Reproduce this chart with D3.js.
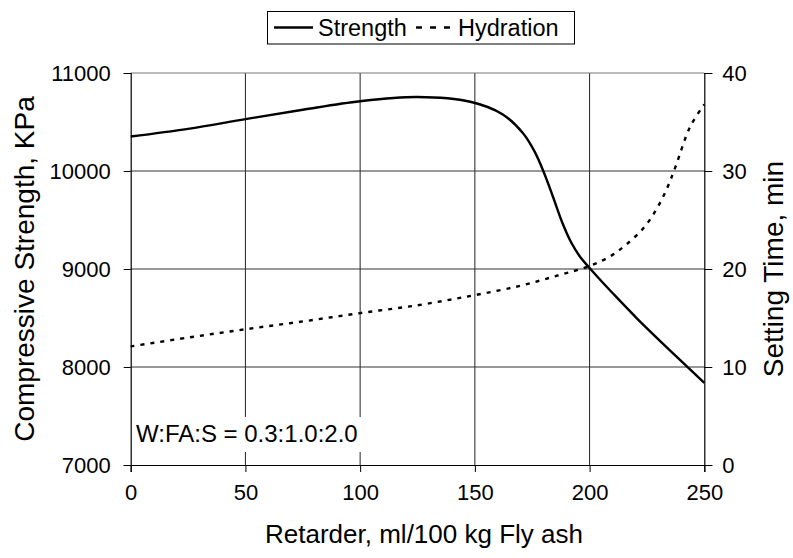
<!DOCTYPE html>
<html>
<head>
<meta charset="utf-8">
<script src="https://cdn.jsdelivr.net/npm/d3@7"></script>
<style>
  body { margin: 0; background: #fff; }
  text { font-family: "Liberation Sans", Arial, sans-serif; fill: #000; }
</style>
</head>
<body>
<div id="chart-area"></div>
<script>
// values
var strengthX = [0, 25, 50, 75, 100, 125, 148, 162, 171, 176, 180, 184, 188, 192, 196, 200, 205, 210, 220.6, 235, 250];
var strengthY = [10352, 10430, 10529, 10625, 10712, 10755, 10707, 10580, 10385, 10200, 9990, 9740, 9480, 9270, 9120, 9010, 8880, 8755, 8497, 8170, 7837];
var hydrationX = [0, 25, 50, 75, 100, 125, 148, 170, 187, 200, 209, 216, 223.6, 229.4, 233.7, 237.4, 243.8, 250];
var hydrationY = [12.1, 13.0, 13.85, 14.65, 15.5, 16.3, 17.25, 18.3, 19.4, 20.3, 21.3, 22.5, 24.2, 26.2, 28.2, 30.4, 34.5, 36.8];
var xTicks = [0, 50, 100, 150, 200, 250];
var leftTicks = [7000, 8000, 9000, 10000, 11000];
var rightTicks = [0, 10, 20, 30, 40];

var width = 793, height = 558;
var pLeft = 130.7, pRight = 704.3, pTop = 73, pBottom = 465;

var svg = d3.select("#chart-area").append("svg").attr("width", width).attr("height", height);

var x = d3.scaleLinear().domain([0, 250]).range([pLeft, pRight]);
var yL = d3.scaleLinear().domain([7000, 11000]).range([pBottom, pTop]);
var yR = d3.scaleLinear().domain([0, 40]).range([pBottom, pTop]);

// grid
var grid = svg.append("g");
grid.selectAll(".vg").data(xTicks.slice(1, -1)).enter().append("line")
  .attr("x1", d => x(d)).attr("x2", d => x(d))
  .attr("y1", pTop).attr("y2", pBottom)
  .attr("stroke", "#222").attr("stroke-width", 1);
grid.selectAll(".hg").data(leftTicks.slice(1)).enter().append("line")
  .attr("x1", pLeft).attr("x2", pRight)
  .attr("y1", d => yL(d)).attr("y2", d => yL(d))
  .attr("stroke", d => d == 11000 ? "#777" : "#333").attr("stroke-width", 1);

// annotation box hides the grid under it
svg.append("rect").attr("x", 133).attr("y", 417).attr("width", 230).attr("height", 35).attr("fill", "#fff");
svg.append("text").attr("x", 136).attr("y", 442).attr("font-size", "24px").text("W:FA:S = 0.3:1.0:2.0");

// axes
var ax = svg.append("g").attr("transform", "translate(0," + pBottom + ")")
  .call(d3.axisBottom(x).tickValues(xTicks).tickSize(7).tickPadding(12));
var ayl = svg.append("g").attr("transform", "translate(" + pLeft + ",0)")
  .call(d3.axisLeft(yL).tickValues(leftTicks).tickSize(7).tickPadding(13).tickFormat(d3.format("d")));
var ayr = svg.append("g").attr("transform", "translate(" + pRight + ",0)")
  .call(d3.axisRight(yR).tickValues(rightTicks).tickSize(8).tickPadding(10));
[ax, ayl, ayr].forEach(function(a) {
  a.select(".domain").attr("stroke", "#000").attr("stroke-width", 1.2);
  a.selectAll(".tick line").attr("stroke", "#000");
  a.selectAll("text").attr("font-size", "22px").attr("font-family", "Liberation Sans, Arial, sans-serif").attr("fill", "#000");
});

// lines
var lineL = d3.line().x(d => x(d[0])).y(d => yL(d[1])).curve(d3.curveCatmullRom.alpha(0.5));
var lineR = d3.line().x(d => x(d[0])).y(d => yR(d[1])).curve(d3.curveCatmullRom.alpha(0.5));

svg.append("path").datum(d3.zip(strengthX, strengthY))
  .attr("d", lineL).attr("fill", "none").attr("stroke", "#000").attr("stroke-width", 2.4);
svg.append("path").datum(d3.zip(hydrationX, hydrationY))
  .attr("d", lineR).attr("fill", "none").attr("stroke", "#000").attr("stroke-width", 2.4)
  .attr("stroke-dasharray", "4,6");

// axis titles
svg.append("text").attr("x", 424).attr("y", 543).attr("text-anchor", "middle")
  .attr("font-size", "26px").text("Retarder, ml/100 kg Fly ash");
svg.append("text").attr("transform", "translate(34," + (pTop + pBottom) / 2 + ") rotate(-90)")
  .attr("text-anchor", "middle").attr("font-size", "28px").text("Compressive Strength, KPa");
svg.append("text").attr("transform", "translate(783," + (pTop + pBottom) / 2 + ") rotate(-90)")
  .attr("text-anchor", "middle").attr("font-size", "28px").text("Setting Time, min");

// legend
var lg = svg.append("g");
lg.append("rect").attr("x", 267.5).attr("y", 11.5).attr("width", 307).attr("height", 32.5)
  .attr("fill", "#fff").attr("stroke", "#000").attr("stroke-width", 1);
lg.append("line").attr("x1", 274).attr("x2", 313).attr("y1", 27.5).attr("y2", 27.5)
  .attr("stroke", "#000").attr("stroke-width", 2.4);
lg.append("text").attr("x", 318).attr("y", 36).attr("font-size", "23.5px").text("Strength");
lg.append("line").attr("x1", 416).attr("x2", 454).attr("y1", 27.5).attr("y2", 27.5)
  .attr("stroke", "#000").attr("stroke-width", 2.4).attr("stroke-dasharray", "6,8");
lg.append("text").attr("x", 458).attr("y", 36).attr("font-size", "23.5px").text("Hydration");
</script>
</body>
</html>
